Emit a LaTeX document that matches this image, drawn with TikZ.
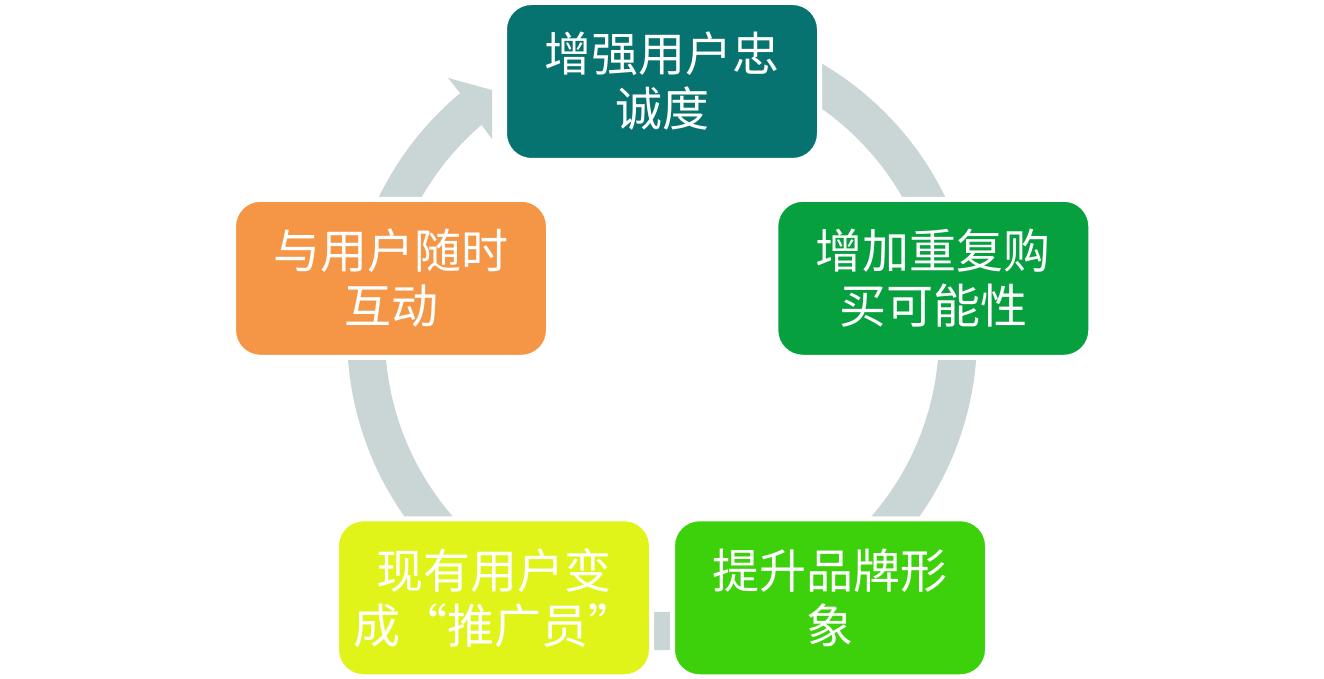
\documentclass[tikz,border=0pt]{standalone}
\usepackage{fontspec}
\newfontfamily\cjk{Noto Sans CJK SC}
\definecolor{ringc}{HTML}{CAD5D5}
\definecolor{cteal}{HTML}{067370}
\definecolor{cgreen}{HTML}{07A03F}
\definecolor{clime}{HTML}{3DD10B}
\definecolor{cyell}{HTML}{E0F419}
\definecolor{corange}{HTML}{F59646}
\begin{document}
\begin{tikzpicture}[x=1pt,y=1pt,
  box/.style={draw=white, line width=5pt, rounded corners=27pt,
    minimum width=315pt, minimum height=158pt, inner sep=0pt,
    text=white, align=center, font=\cjk\fontsize{47}{55}\selectfont}]
\useasboundingbox (0,0) rectangle (1324,679);
\coordinate (C) at (662,344);
\begin{scope}[shift={(C)}]
\fill[ringc] (-214,257) -- (-170,245) -- (-170,196) -- (130.67:277)
  arc[start angle=130.67, end angle=460, radius=277] -- (460:315)
  arc[start angle=460, end angle=129.85, radius=315] -- cycle;
\end{scope}
\node[box, fill=cteal]   (top) at (662,597.5) {增强用户忠\\诚度};
\node[box, fill=cgreen]  (rt)  at (933.3,400.7) {增加重复购\\买可能性};
\node[box, fill=clime]   (br)  at (830,81.2) {提升品牌形\\象};
\node[box, fill=cyell]   (bl)  at (494,81.2) {现有用户变\\成“推广员”};
\node[box, fill=corange] (lt)  at (391,400.7) {与用户随时\\互动};
\end{tikzpicture}
\end{document}
